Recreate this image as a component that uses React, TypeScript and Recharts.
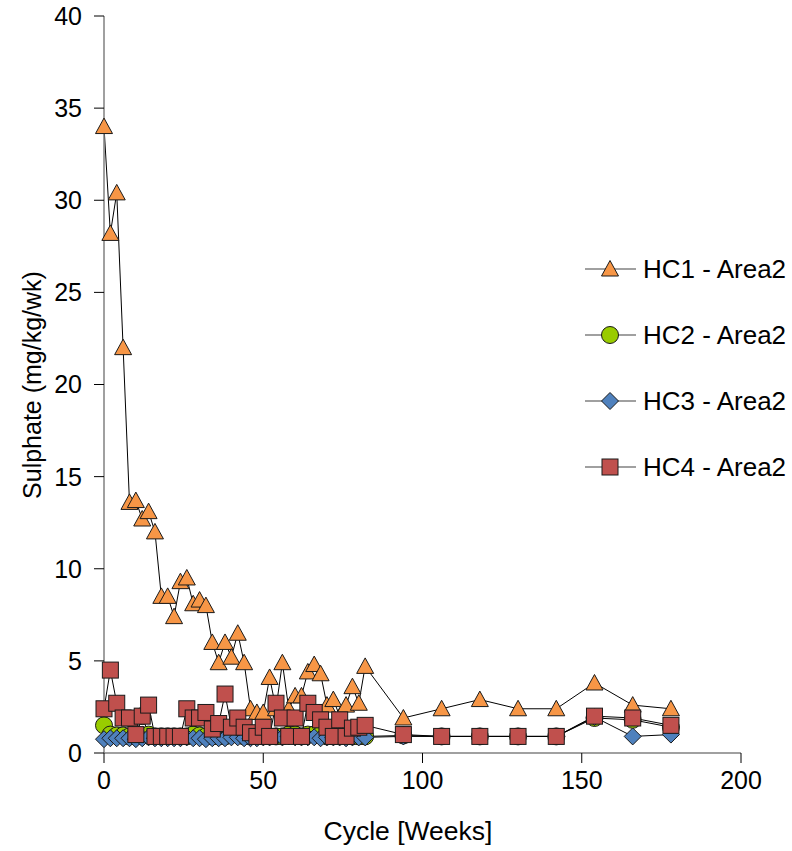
import { LineChart, Line, XAxis, YAxis, Label } from 'recharts';

// ─── Data ─────────────────────────────────────────────────────────────────────

const WEEKS = [
  0, 2, 4, 6, 8, 10, 12, 14, 16, 18, 20, 22, 24, 26, 28, 30, 32, 34, 36, 38, 40,
  42, 44, 46, 48, 50, 52, 54, 56, 58, 60, 62, 64, 66, 68, 70, 72, 74, 76, 78, 80,
  82, 94, 106, 118, 130, 142, 154, 166, 178,
];

const HC1_AREA2 = [
  34.0, 28.2, 30.4, 22.0, 13.6, 13.7, 12.7, 13.1, 12.0, 8.5, 8.5, 7.4, 9.3, 9.5,
  8.1, 8.3, 8.0, 6.0, 4.9, 6.0, 5.2, 6.5, 4.9, 2.4, 2.2, 2.2, 4.1, 2.4, 4.9, 2.4,
  3.1, 3.1, 4.4, 4.8, 4.3, 2.6, 2.9, 2.0, 2.6, 3.6, 2.7, 4.7, 1.9, 2.4, 2.9, 2.4,
  2.4, 3.8, 2.6, 2.4,
];

const HC2_AREA2 = [
  1.5, 1.0, 0.95, 0.95, 0.9, 0.9, 2.0, 1.0, 0.9, 0.9, 0.9, 0.9, 0.9, 0.9, 1.0,
  0.95, 0.9, 0.9, 0.9, 0.9, 1.0, 1.0, 0.9, 0.9, 0.9, 0.9, 0.9, 0.9, 0.9, 1.0, 1.0,
  0.9, 1.0, 1.0, 1.0, 0.9, 0.9, 0.9, 0.9, 0.9, 0.9, 0.9, 0.95, 0.9, 0.9, 0.9, 0.9,
  1.9, 1.8, 1.4,
];

const HC3_AREA2 = [
  0.75, 0.8, 0.8, 0.8, 0.8, 0.75, 0.8, 0.85, 0.8, 0.8, 0.8, 0.8, 0.8, 0.85, 0.8,
  0.8, 0.75, 0.8, 0.8, 0.8, 0.85, 0.85, 0.8, 0.8, 0.8, 0.85, 0.85, 0.9, 0.85, 0.9,
  0.85, 0.85, 0.85, 0.85, 0.8, 0.85, 0.85, 0.85, 0.8, 0.85, 0.85, 0.85, 0.9, 0.9,
  0.9, 0.9, 0.9, 1.95, 0.9, 1.0,
];

const HC4_AREA2 = [
  2.4, 4.5, 2.7, 1.9, 1.9, 1.0, 2.0, 2.6, 0.9, 0.9, 0.9, 0.9, 0.9, 2.4, 1.9, 1.9,
  2.2, 1.3, 1.6, 3.2, 1.4, 1.9, 1.4, 1.1, 0.9, 1.4, 0.9, 2.7, 1.9, 0.9, 1.9, 0.9,
  2.7, 2.2, 1.8, 1.4, 0.9, 1.8, 0.9, 1.35, 1.4, 1.5, 1.0, 0.9, 0.9, 0.9, 0.9, 2.0,
  1.9, 1.5,
];

const X_TICKS = [0, 50, 100, 150, 200];
const Y_TICKS = [0, 5, 10, 15, 20, 25, 30, 35, 40];

// ─── Styling ──────────────────────────────────────────────────────────────────

const FONT = '"Liberation Sans", Arial, sans-serif';
const AXIS_GRAY = '#808080';
const MARKER_EDGE = '#1a1a1a';

type Shape = 'triangle' | 'circle' | 'diamond' | 'square';

const SERIES: { name: string; values: number[]; fill: string; shape: Shape }[] = [
  { name: 'HC1 - Area2', values: HC1_AREA2, fill: '#F79646', shape: 'triangle' },
  { name: 'HC2 - Area2', values: HC2_AREA2, fill: '#99CC00', shape: 'circle' },
  { name: 'HC3 - Area2', values: HC3_AREA2, fill: '#4F81BD', shape: 'diamond' },
  { name: 'HC4 - Area2', values: HC4_AREA2, fill: '#C0504D', shape: 'square' },
];

// ─── Markers ──────────────────────────────────────────────────────────────────

function Marker({ shape, cx, cy, fill }: { shape: Shape; cx: number; cy: number; fill: string }) {
  const common = { fill, stroke: MARKER_EDGE, strokeWidth: 1 };
  switch (shape) {
    case 'triangle':
      return (
        <polygon
          {...common}
          points={`${cx},${cy - 8.5} ${cx + 8.5},${cy + 7} ${cx - 8.5},${cy + 7}`}
        />
      );
    case 'circle':
      return <circle {...common} cx={cx} cy={cy} r={8.5} />;
    case 'diamond':
      return (
        <polygon
          {...common}
          points={`${cx},${cy - 8.5} ${cx + 8.5},${cy} ${cx},${cy + 8.5} ${cx - 8.5},${cy}`}
        />
      );
    default:
      return <rect {...common} x={cx - 8} y={cy - 8} width={16} height={16} />;
  }
}

function markerDot(shape: Shape, fill: string) {
  return (props: any) => {
    const { cx, cy, index } = props;
    if (cx == null || cy == null) return <g key={`${shape}-${index}`} />;
    return (
      <g key={`${shape}-${index}`}>
        <Marker shape={shape} cx={cx} cy={cy} fill={fill} />
      </g>
    );
  };
}

// ─── Legend (overlaid on the plot's right side) ───────────────────────────────

function SeriesLegend() {
  return (
    <svg
      width={210}
      height={240}
      style={{ position: 'absolute', left: 585, top: 250, overflow: 'visible' }}
    >
      {SERIES.map((s, i) => {
        const y = 19 + i * 66;
        return (
          <g key={s.name}>
            <line x1={0} x2={51} y1={y} y2={y} stroke={AXIS_GRAY} strokeWidth={1.5} />
            <Marker shape={s.shape} cx={25} cy={y} fill={s.fill} />
            <text
              x={58}
              y={y}
              dominantBaseline="central"
              fontFamily={FONT}
              fontSize={26}
              fill="#000"
            >
              {s.name}
            </text>
          </g>
        );
      })}
    </svg>
  );
}

// ─── Chart ────────────────────────────────────────────────────────────────────

export default function App() {
  return (
    <div style={{ position: 'absolute', left: 0, top: 0, width: 792, height: 851, background: '#fff' }}>
      <LineChart width={792} height={851} margin={{ top: 16, right: 51, left: 0, bottom: 0 }}>
        <XAxis
          type="number"
          dataKey="week"
          domain={[0, 200]}
          ticks={X_TICKS}
          allowDuplicatedCategory={false}
          height={98}
          tickSize={10}
          tickMargin={8}
          axisLine={{ stroke: AXIS_GRAY, strokeWidth: 1.5 }}
          tickLine={{ stroke: '#000' }}
          tick={{ fill: '#000', fontSize: 25, fontFamily: FONT }}
        >
          <Label
            content={() => (
              <text x={408} y={831} textAnchor="middle" dominantBaseline="central" fontFamily={FONT} fontSize={26.5} fill="#000">
                Cycle [Weeks]
              </text>
            )}
          />
        </XAxis>
        <YAxis
          type="number"
          domain={[0, 40]}
          ticks={Y_TICKS}
          width={104}
          tickSize={10}
          tickMargin={12}
          axisLine={{ stroke: AXIS_GRAY, strokeWidth: 1.5 }}
          tickLine={{ stroke: '#000' }}
          tick={{ fill: '#000', fontSize: 25, fontFamily: FONT }}
        >
          <Label
            content={() => (
              <text
                x={32}
                y={385}
                transform="rotate(-90 32 385)"
                textAnchor="middle"
                dominantBaseline="central"
                fontFamily={FONT}
                fontSize={25}
                fill="#000"
              >
                Sulphate (mg/kg/wk)
              </text>
            )}
          />
        </YAxis>
        {SERIES.map((s) => (
          <Line
            key={s.name}
            name={s.name}
            data={WEEKS.map((week, i) => ({ week, value: s.values[i] }))}
            dataKey="value"
            type="linear"
            stroke="#000"
            strokeWidth={1}
            dot={markerDot(s.shape, s.fill)}
            activeDot={false}
            isAnimationActive={false}
          />
        ))}
      </LineChart>
      <SeriesLegend />
    </div>
  );
}
